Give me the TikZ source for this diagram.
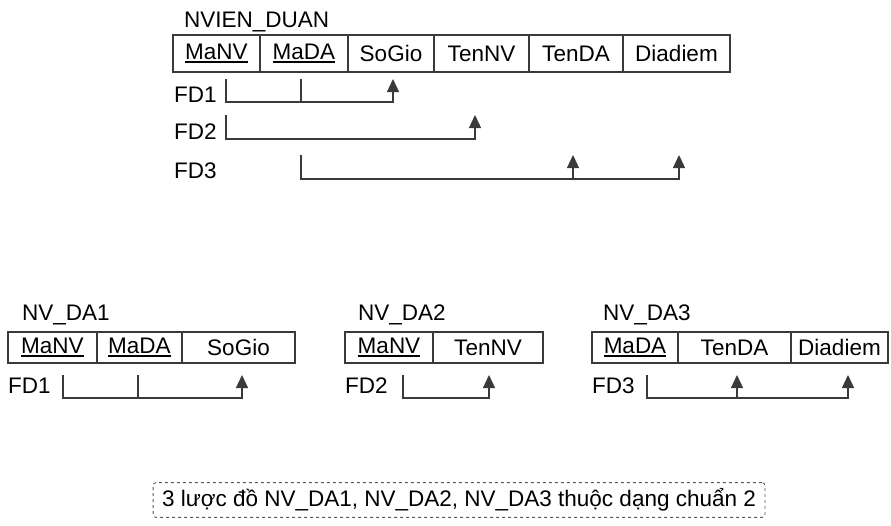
\documentclass[tikz,border=0pt]{standalone}
\usepackage{fontspec}
\setmainfont{Liberation Sans}
\usepackage{tikz}
\usetikzlibrary{arrows.meta, positioning}
\definecolor{relLine}{HTML}{3A3A3A}
\definecolor{relNote}{HTML}{5A5A5A}
\newcommand{\keyul}[1]{\setbox0\hbox{#1}\rlap{\rule[-3.8pt]{\wd0}{1.7pt}}\box0}

\begin{document}
\begin{tikzpicture}[
  x=1pt, y=-1pt,
  >={Triangle[width=12pt,length=13pt]},
  font=\fontsize{22.5}{27}\selectfont,
  cell/.style={draw=relLine, line width=1.4pt, minimum height=37pt, inner sep=0pt, outer sep=0pt},
  lowcell/.style={cell, minimum height=31pt},
  title/.style={anchor=base west, inner sep=0pt},
  fdlabel/.style={anchor=base west, inner sep=0pt},
  fd/.style={->, draw=relLine, line width=1.3pt},
  key/.style={draw=relLine, line width=1.3pt},
  note/.style={draw=relNote, dashed, line width=0.9pt, rounded corners=3pt, inner xsep=9pt, inner ysep=6pt}
]
  \useasboundingbox (0,0) rectangle (891,525);

  % Relation NVIEN_DUAN
  \node[title] (tNV) at (184,27) {NVIEN\_DUAN};
  \node[cell, minimum width=87pt, anchor=north west] (aMaNV) at (173,35) {\keyul{MaNV}};
  \node[cell, minimum width=88pt, right=0pt of aMaNV] (aMaDA) {\keyul{MaDA}};
  \node[cell, minimum width=86pt, right=0pt of aMaDA] (aSoGio) {SoGio};
  \node[cell, minimum width=95pt, right=0pt of aSoGio] (aTenNV) {TenNV};
  \node[cell, minimum width=94pt, right=0pt of aTenNV] (aTenDA) {TenDA};
  \node[cell, minimum width=107pt, right=0pt of aTenDA] (aDiadiem) {Diadiem};

  \node[fdlabel] (lA1) at (174,102) {FD1};
  \node[fdlabel] (lA2) at (174,139) {FD2};
  \node[fdlabel] (lA3) at (174,178) {FD3};

  \coordinate (fA1) at (226,79);
  \coordinate (fA2) at (301,79);
  \coordinate (fA3) at (393,79);
  \draw[fd] (fA1) -- ++(0,23) -| (fA3);
  \draw[key] (fA2) -- ++(0,23);

  \coordinate (fB1) at (226,115);
  \coordinate (fB2) at (475,115);
  \draw[fd] (fB1) -- ++(0,24) -| (fB2);

  \coordinate (fC1) at (301,155);
  \coordinate (fC2) at (573,155);
  \coordinate (fC3) at (679,155);
  \draw[fd] (fC1) -- ++(0,24) -| (fC3);
  \draw[fd] (fC2) ++(0,24) -- (fC2);

  % NV_DA1
  \node[title] (tDA1) at (22,320) {NV\_DA1};
  \node[lowcell, minimum width=89pt, anchor=north west] (bMaNV) at (8,332) {\keyul{MaNV}};
  \node[lowcell, minimum width=85pt, right=0pt of bMaNV] (bMaDA) {\keyul{MaDA}};
  \node[lowcell, minimum width=113pt, right=0pt of bMaDA] (bSoGio) {SoGio};
  \node[fdlabel] (lB1) at (8,393) {FD1};
  \coordinate (gA1) at (63,375);
  \coordinate (gA2) at (138,375);
  \coordinate (gA3) at (242,375);
  \draw[fd] (gA1) -- ++(0,23) -| (gA3);
  \draw[key] (gA2) -- ++(0,23);

  % NV_DA2
  \node[title] (tDA2) at (358,320) {NV\_DA2};
  \node[lowcell, minimum width=88pt, anchor=north west] (cMaNV) at (345,332) {\keyul{MaNV}};
  \node[lowcell, minimum width=110pt, right=0pt of cMaNV] (cTenNV) {TenNV};
  \node[fdlabel] (lC2) at (345,393) {FD2};
  \coordinate (gB1) at (403,375);
  \coordinate (gB2) at (489,375);
  \draw[fd] (gB1) -- ++(0,23) -| (gB2);

  % NV_DA3
  \node[title] (tDA3) at (603,320) {NV\_DA3};
  \node[lowcell, minimum width=86pt, anchor=north west] (dMaDA) at (592,332) {\keyul{MaDA}};
  \node[lowcell, minimum width=113pt, right=0pt of dMaDA] (dTenDA) {TenDA};
  \node[lowcell, minimum width=97pt, right=0pt of dTenDA] (dDiadiem) {Diadiem};
  \node[fdlabel] (lD3) at (592,393) {FD3};
  \coordinate (gC1) at (647,375);
  \coordinate (gC2) at (737,375);
  \coordinate (gC3) at (848,375);
  \draw[fd] (gC1) -- ++(0,23) -| (gC3);
  \draw[fd] (gC2) ++(0,23) -- (gC2);

  % conclusion
  \node[note] (kq) at (459,500) {3 lược đồ NV\_DA1, NV\_DA2, NV\_DA3 thuộc dạng chuẩn 2};
\end{tikzpicture}
\end{document}
